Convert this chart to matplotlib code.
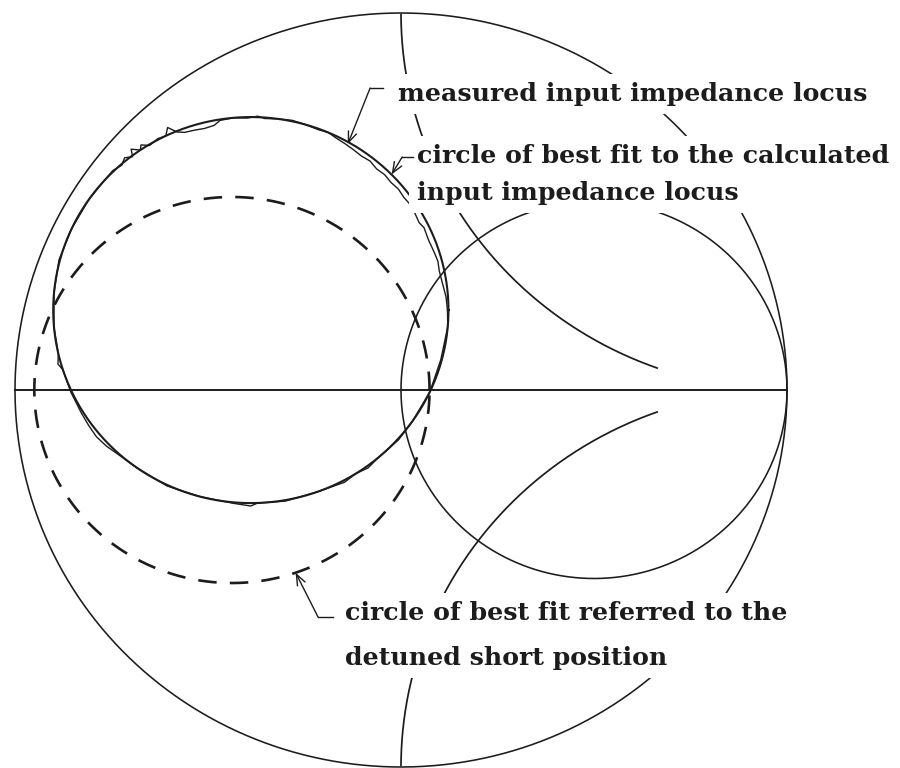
import numpy as np
import matplotlib
matplotlib.use("Agg")
import matplotlib.pyplot as plt
from matplotlib.patches import Rectangle
from matplotlib.transforms import Bbox

# Smith chart grid drawn on the reflection-coefficient plane
resistance_values = [0.0, 1.0]
reactance_values = [1.0, -1.0]
reactance_arc_end = 0.67          # arcs stop short of the open-circuit point

# circle of best fit to the calculated input impedance locus
fit_center = (-0.389, 0.212)
fit_radius = 0.512

# the same circle referred to the detuned short position
detuned_center = (-0.438, 0.0)
detuned_radius = 0.512

# measured locus, sampled as (angle about fit centre, radial offset in px)
meas_angle = [0, 4, 8, 12, 15, 18, 22, 26, 28, 31, 34, 37, 40, 43, 46, 49,
              52, 55, 58, 61, 64, 67, 70, 74, 78, 82, 86, 88, 91, 95, 99,
              101, 104, 107, 110, 112, 114, 115.5, 118, 121, 123, 124, 126,
              127, 129, 131, 134, 138, 145, 155, 165, 175, 185, 193, 196,
              198, 205, 212, 216, 220, 224, 228, 235, 245, 255, 265, 270,
              272, 280, 290, 298, 302, 306, 310, 318, 325, 335, 345, 355, 360]
meas_offset_px = [-1, -2, -4, -5, -4, -5, -6, -5, -7, -6, -5, -6, -5, -6, -5,
                  -6, -4, -5, -4, -3, -2, 0, -1, 0, 1, 0, -1, 1, -1, 0, -1,
                  -5, -6, -5, -4, -1, 7, 0, 1, -1, 4, 0, 6, -1, 3, -1, 1, 0,
                  0, 0, 1, 0, 0, 0, 3, 0, 1, 2, 3, 4, 3, 1, 0, 1, 0, 1, 3, 0,
                  1, 0, 2, 0, 2, 0, 1, 0, 0, -1, 0, -1]

labels_measured = ["measured input impedance locus"]
labels_fit = ["circle of best fit to the calculated", "input impedance locus"]
labels_detuned = ["circle of best fit referred to the", "detuned short position"]

ink = "#1c1c1c"
W, H = 900, 768
cx, cy, rx, ry = 401, 390, 386, 377   # chart centre / unit radius on the page

fig = plt.figure(figsize=(W / 100, H / 100), dpi=100)
ax = fig.add_axes([0, 0, 1, 1])
ax.set_xlim(-cx / rx, (W - cx) / rx)
ax.set_ylim((cy - H) / ry, cy / ry)
ax.set_axis_off()
fig.patch.set_facecolor("white")

t = np.linspace(0, 2 * np.pi, 720)

# constant resistance circles
for r in resistance_values:
    c, rad = r / (1 + r), 1 / (1 + r)
    ax.plot(c + rad * np.cos(t), rad * np.sin(t), color=ink, lw=1.15, zorder=2)

# constant reactance arcs
for x in reactance_values:
    c, rad = (1.0, 1.0 / x), 1.0 / abs(x)
    px = c[0] + rad * np.cos(t)
    py = c[1] + rad * np.sin(t)
    keep = (px ** 2 + py ** 2 <= 1.0005) & (px <= reactance_arc_end)
    order = np.argsort(np.arctan2(py[keep] - c[1], px[keep] - c[0]))
    ax.plot(px[keep][order], py[keep][order], color=ink, lw=1.25, zorder=2)

# real axis
ax.plot([-1, 1], [0, 0], color=ink, lw=1.4, zorder=2)

# fitted circle
ax.plot(fit_center[0] + fit_radius * np.cos(t),
        fit_center[1] + fit_radius * np.sin(t), color=ink, lw=1.5, zorder=3)

# measured locus
ang = np.radians(meas_angle)
rad_m = fit_radius + np.array(meas_offset_px) / rx
ax.plot(fit_center[0] + rad_m * np.cos(ang),
        fit_center[1] + rad_m * np.sin(ang), color=ink, lw=1.0, zorder=3)

# detuned-short circle
ax.plot(detuned_center[0] + detuned_radius * np.cos(t),
        detuned_center[1] + detuned_radius * np.sin(t), color=ink, lw=1.9,
        dashes=(7, 5), zorder=3)

# labels
txt = dict(family="DejaVu Serif", fontsize=18.2, fontweight="bold", color=ink,
           zorder=5, va="baseline", ha="left")


def put(lines, x0, y0, dy):
    return [ax.text(x0, y0 - i * dy, s, **txt) for i, s in enumerate(lines)]


blocks = [put(labels_measured, -0.008, 0.767, 0.0),
          put(labels_fit, 0.041, 0.602, 0.098),
          put(labels_detuned, -0.145, -0.610, 0.119)]

# blank out the chart lines behind each label block
fig.canvas.draw()
renderer = fig.canvas.get_renderer()
inv = ax.transData.inverted()
for block in blocks:
    bb = Bbox.union([b.get_window_extent(renderer) for b in block]).padded(8)
    (x0, y0), (x1, y1) = inv.transform(bb.get_points())
    ax.add_patch(Rectangle((x0, y0), x1 - x0, y1 - y0, fc="white", ec="none",
                           zorder=4))

arrow = dict(arrowstyle="->,head_length=0.55,head_width=0.22", color=ink,
             lw=1.0, shrinkA=0, shrinkB=0, mutation_scale=14)


def leader(center, radius, deg, corner, tail):
    a = np.radians(deg)
    tip = (center[0] + radius * np.cos(a), center[1] + radius * np.sin(a))
    ax.plot([corner[0], tail], [corner[1], corner[1]], color=ink, lw=1.0,
            zorder=6)
    ax.annotate("", xy=tip, xytext=corner, arrowprops=arrow, zorder=6)


leader(fit_center, fit_radius - 2 / rx, 60.3, (-0.080, 0.801), -0.047)
leader(fit_center, fit_radius, 44.6, (0.003, 0.618), 0.031)
leader(detuned_center, detuned_radius, 288.8, (-0.215, -0.602), -0.176)

fig.savefig("out.png", dpi=100, facecolor="white")
